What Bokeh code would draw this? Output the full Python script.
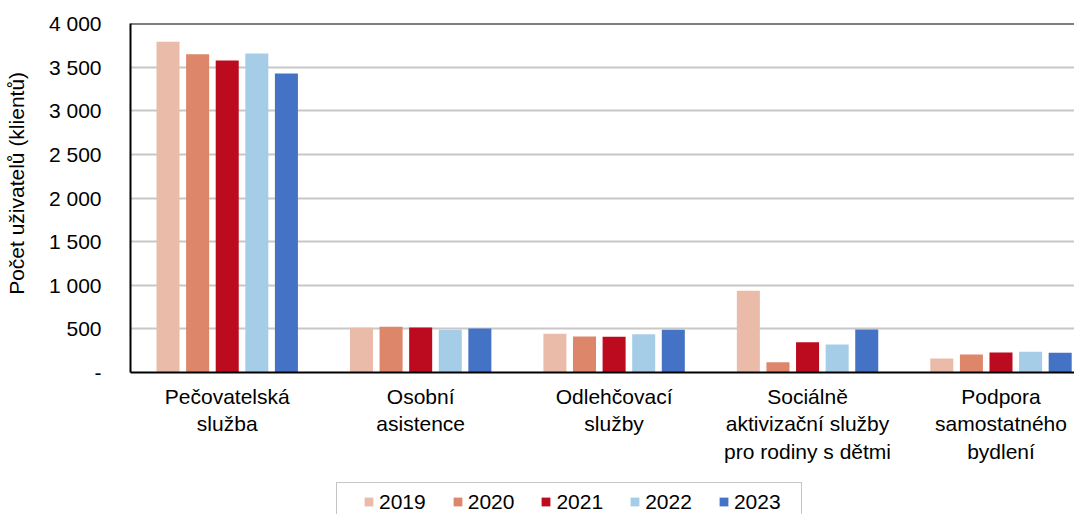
from bokeh.plotting import figure
from bokeh.layouts import column
from bokeh.models import (ColumnDataSource, Range1d, FixedTicker, Legend, LegendItem, Span, BoxAnnotation)
from bokeh.embed import file_html
from bokeh.resources import INLINE

# ---- data ----
categories = ["Pečovatelská\nslužba", "Osobní\nasistence", "Odlehčovací\nslužby",
              "Sociálně\naktivizační služby\npro rodiny s dětmi", "Podpora\nsamostatného\nbydlení"]
years = ["2019", "2020", "2021", "2022", "2023"]
v2019 = [3790, 512, 443, 936, 160]
v2020 = [3648, 524, 413, 118, 206]
v2021 = [3576, 516, 409, 347, 229]
v2022 = [3656, 489, 439, 321, 237]
v2023 = [3427, 504, 489, 493, 226]
series = [v2019, v2020, v2021, v2022, v2023]
colors = ["#EBBBA9", "#DD866A", "#BC0A1E", "#A6CDE7", "#4472C4"]
y_ticks = [0, 500, 1000, 1500, 2000, 2500, 3000, 3500, 4000]
y_tick_labels = ["-", "500", "1 000", "1 500", "2 000", "2 500", "3 000", "3 500", "4 000"]

FONT = "Liberation Sans"

p = figure(width=1074, height=480, output_backend="svg", toolbar_location=None,
           x_range=Range1d(0, 4.88), y_range=Range1d(0, 4000),
           min_border_left=130, min_border_top=23, min_border_bottom=108, min_border_right=0)
p.outline_line_color = None

pitch = 0.153
bw = 0.119
sources = []
for j, (yr, vals, col) in enumerate(zip(years, series, colors)):
    xs = [i + 0.5 + (j - 2) * pitch for i in range(len(categories))]
    src = ColumnDataSource(dict(x=xs, top=vals))
    sources.append(src)
    p.vbar(x="x", top="top", width=bw, source=src, fill_color=col, line_color=None)

# y axis
p.yaxis.ticker = FixedTicker(ticks=y_ticks)
p.yaxis.major_label_overrides = {t: l for t, l in zip(y_ticks, y_tick_labels)}
p.yaxis.major_tick_line_color = None
p.yaxis.minor_tick_line_color = None
p.yaxis.major_tick_out = 0
p.yaxis.major_label_standoff = 29
p.yaxis.major_label_text_font = FONT
p.yaxis.major_label_text_font_size = "21px"
p.yaxis.major_label_text_color = "black"
p.yaxis.axis_line_color = "black"
p.yaxis.axis_line_width = 2
p.yaxis.axis_label = "\u00a0" * 5 + "Počet uživatelů (klientů)"
p.yaxis.axis_label_text_font = FONT
p.yaxis.axis_label_text_font_size = "21px"
p.yaxis.axis_label_text_font_style = "normal"
p.yaxis.axis_label_text_color = "black"
p.yaxis.axis_label_standoff = 18

# x axis
p.xaxis.ticker = FixedTicker(ticks=[i + 0.5 for i in range(len(categories))])
p.xaxis.major_label_overrides = {i + 0.5: c for i, c in enumerate(categories)}
p.xaxis.major_tick_line_color = None
p.xaxis.minor_tick_line_color = None
p.xaxis.major_tick_out = 0
p.xaxis.major_label_standoff = 12
p.xaxis.major_label_text_font = FONT
p.xaxis.major_label_text_font_size = "21px"
p.xaxis.major_label_text_color = "black"
p.xaxis.axis_line_color = "black"
p.xaxis.axis_line_width = 2

p.xgrid.grid_line_color = None
p.ygrid.grid_line_color = "#c8c8c8"
p.ygrid.grid_line_width = 2

p.add_layout(Span(location=y_ticks[-1], dimension="width", line_color="black", line_width=2))

# ---- legend strip (its frame is aligned with the chart frame, x offset 130) ----
p2 = figure(width=1074, height=34, output_backend="svg", toolbar_location=None,
            x_range=Range1d(0, 4.88), y_range=Range1d(50000, 60000),
            x_axis_location=None, y_axis_location=None,
            min_border_left=0, min_border_right=0, min_border_top=0, min_border_bottom=0)
p2.outline_line_color = None
p2.grid.visible = False
leg_renderers = []
for src, col in zip(sources, colors):
    # same data, lying outside this strip's visible range: used only for legend swatches
    r = p2.vbar(x="x", top="top", width=bw, source=src, fill_color=col, line_color=None)
    leg_renderers.append(r)

p2.add_layout(BoxAnnotation(left=206, right=671, top=32, bottom=-30,
                            left_units="screen", right_units="screen",
                            top_units="screen", bottom_units="screen",
                            fill_color=None, line_color="#404040", line_width=1))

legend = Legend(items=[LegendItem(label=y, renderers=[r]) for y, r in zip(years, leg_renderers)],
                orientation="horizontal", location=(233, 0), margin=0, padding=0,
                glyph_width=11, glyph_height=11, label_standoff=5, spacing=26,
                label_height=25, label_text_color="black",
                label_text_font=FONT, label_text_font_size="21px",
                border_line_color=None, background_fill_color=None)
p2.add_layout(legend, "center")

open("out.html", "w").write(file_html(column(p, p2, spacing=0), INLINE))
